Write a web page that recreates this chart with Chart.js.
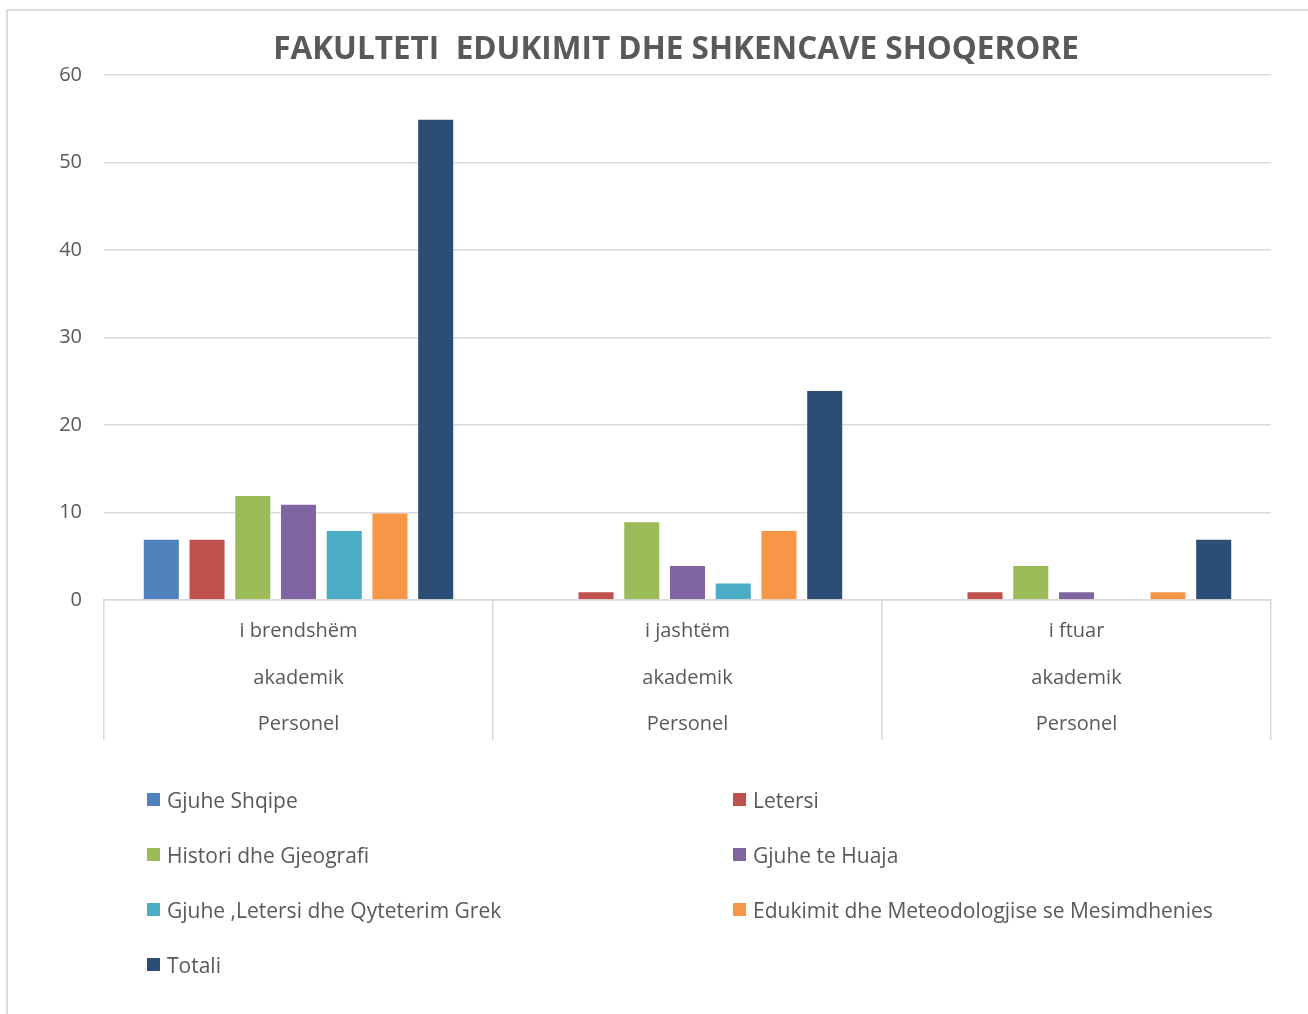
<!DOCTYPE html>
<html>
<head>
<meta charset="utf-8">
<script src="https://cdn.jsdelivr.net/npm/chart.js@4.4.1/dist/chart.umd.min.js"></script>
<style>
  html, body { margin: 0; padding: 0; background: #ffffff; }
  #wrap { position: relative; width: 1308px; height: 1014px; overflow: hidden; }
  #frame { position: absolute; left: 6px; top: 9px; width: 1400px; height: 1100px;
           border-left: 2px solid #dcdcdc; border-top: 2px solid #dcdcdc; box-sizing: border-box; }
  canvas { position: absolute; left: 0; top: 0; }
  #legend { position: absolute; left: 147px; top: 772px; display: grid;
            grid-template-columns: 586px auto; grid-auto-rows: 55px; margin: 0; padding: 0; list-style: none;
            font-family: "Open Sans", sans-serif; font-size: 21px; color: #595959; }
  #legend li { display: flex; align-items: center; white-space: nowrap; }
  #legend .box { width: 13px; height: 13px; margin-right: 7px; flex: none; }
</style>
</head>
<body>
<div id="wrap">
  <div id="frame"></div>
  <canvas id="c" width="1308" height="1014"></canvas>
  <ul id="legend"></ul>
</div>
<script>
const chartTitle = "FAKULTETI  EDUKIMIT DHE SHKENCAVE SHOQERORE";
const categories = [
  ["i brendshëm", "akademik", "Personel"],
  ["i jashtëm", "akademik", "Personel"],
  ["i ftuar", "akademik", "Personel"]
];
const seriesNames = [
  "Gjuhe Shqipe",
  "Letersi",
  "Histori dhe Gjeografi",
  "Gjuhe te Huaja",
  "Gjuhe ,Letersi dhe Qyteterim Grek",
  "Edukimit dhe Meteodologjise se Mesimdhenies",
  "Totali"
];
const gjuheShqipe = [7, 0, 0];
const letersi = [7, 1, 1];
const historiGjeografi = [12, 9, 4];
const gjuheHuaja = [11, 4, 1];
const gjuheGrek = [8, 2, 0];
const edukimit = [10, 8, 1];
const totali = [55, 24, 7];
const seriesValues = [gjuheShqipe, letersi, historiGjeografi, gjuheHuaja, gjuheGrek, edukimit, totali];
const seriesColors = ["#4F81BD", "#C0504D", "#9BBB59", "#8064A2", "#4BACC6", "#F79646", "#2C4D75"];
const yTicks = { min: 0, max: 60, step: 10 };

const gridColor = "#d9d9d9";
const textColor = "#595959";

const datasets = seriesNames.map((name, i) => ({
  label: name,
  data: seriesValues[i],
  backgroundColor: seriesColors[i],
  borderColor: "rgba(255,255,255,0.35)",
  borderWidth: 1,
  categoryPercentage: 0.823,
  barPercentage: 0.81
}));

// shift the title box slightly left, as in the original Excel layout
const titleShift = {
  id: "titleShift",
  afterLayout(chart) {
    if (chart.titleBlock) { chart.titleBlock.left -= 23; }
  }
};

const chart = new Chart(document.getElementById("c"), {
  type: "bar",
  data: { labels: categories, datasets: datasets },
  plugins: [titleShift],
  options: {
    responsive: false,
    animation: false,
    layout: { padding: { left: 0, right: 37, top: 0, bottom: 274 } },
    plugins: {
      legend: { display: false },
      tooltip: { enabled: false },
      title: {
        display: true,
        text: chartTitle,
        fullSize: false,
        color: textColor,
        font: { family: "'Open Sans', sans-serif", size: 31.5, weight: "bold", lineHeight: 1.2 },
        padding: { top: 31, bottom: 6.2 }
      }
    },
    scales: {
      x: {
        grid: {
          offset: true,
          drawOnChartArea: false,
          drawTicks: true,
          tickLength: 140,
          color: gridColor,
          lineWidth: 1.5
        },
        border: { display: true, color: gridColor, width: 1.5 },
        ticks: {
          color: textColor,
          padding: -132,
          maxRotation: 0,
          autoSkip: false,
          font: { family: "'Open Sans', sans-serif", size: 20, lineHeight: 2.33 }
        },
        afterFit: (s) => { s.height = 140; }
      },
      y: {
        min: yTicks.min,
        max: yTicks.max,
        grid: { color: gridColor, lineWidth: 1.5, drawTicks: false },
        border: { display: false },
        ticks: {
          stepSize: yTicks.step,
          color: textColor,
          padding: 22,
          font: { family: "'Open Sans', sans-serif", size: 20 }
        },
        afterFit: (s) => { s.width = 104; }
      }
    }
  }
});

// HTML legend built from the chart's datasets
const legendEl = document.getElementById("legend");
chart.data.datasets.forEach(ds => {
  const li = document.createElement("li");
  const box = document.createElement("span");
  box.className = "box";
  box.style.background = ds.backgroundColor;
  const txt = document.createElement("span");
  txt.textContent = ds.label;
  li.appendChild(box);
  li.appendChild(txt);
  legendEl.appendChild(li);
});
</script>
</body>
</html>
